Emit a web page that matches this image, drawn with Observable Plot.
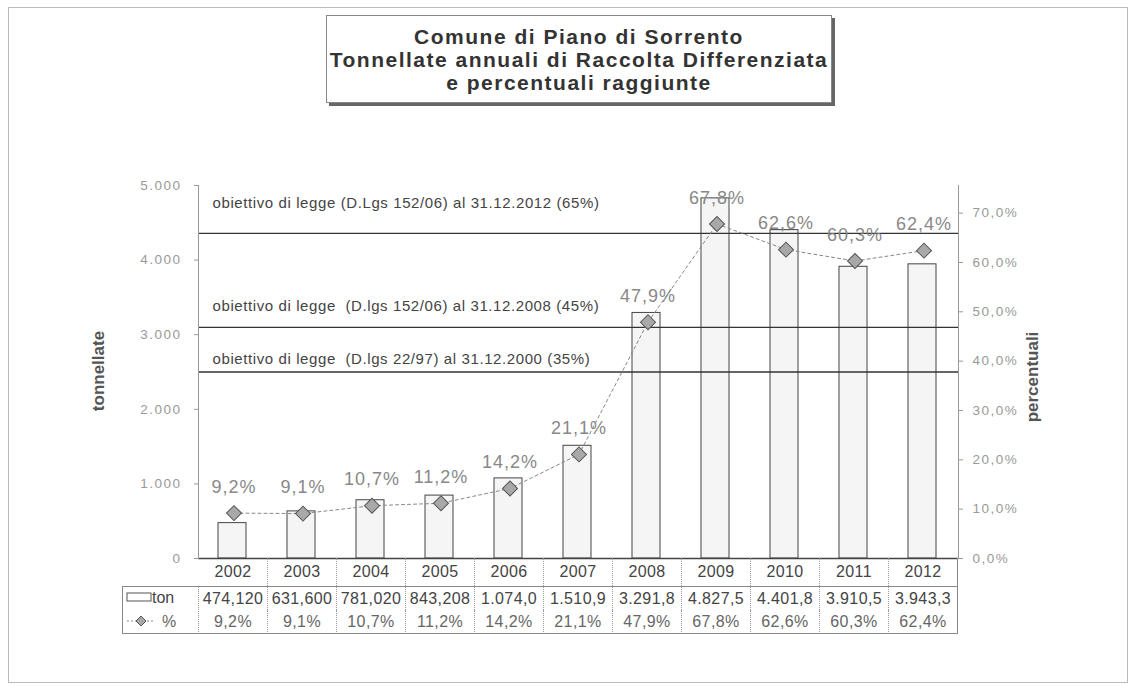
<!DOCTYPE html>
<html><head><meta charset="utf-8">
<script src="https://cdn.jsdelivr.net/npm/d3@7"></script>
<script src="https://cdn.jsdelivr.net/npm/@observablehq/plot@0.6"></script>
<style>
html,body{margin:0;padding:0;background:#fff;}
#wrap{position:relative;width:1132px;height:693px;font-family:"Liberation Sans",Arial,sans-serif;overflow:hidden;background:#fff}
#wrap svg{position:absolute;left:0;top:0}
.abs{position:absolute;box-sizing:border-box}
.cell{position:absolute;box-sizing:border-box;text-align:center;font-size:16px;color:#444;letter-spacing:0.4px}
.tick-lbl text{letter-spacing:1.5px}
.goal-lbl text{letter-spacing:0.6px}
.pct-lbl text{letter-spacing:1px}
</style></head><body><div id="wrap"></div>
<script>
// ---- data ----
const years = ["2002","2003","2004","2005","2006","2007","2008","2009","2010","2011","2012"];
const tons = [474.12, 631.6, 781.02, 843.208, 1074.0, 1510.9, 3291.8, 4827.5, 4401.8, 3910.5, 3943.3];
const tonLabels = ["474,120","631,600","781,020","843,208","1.074,0","1.510,9","3.291,8","4.827,5","4.401,8","3.910,5","3.943,3"];
const pcts = [9.2, 9.1, 10.7, 11.2, 14.2, 21.1, 47.9, 67.8, 62.6, 60.3, 62.4];
const pctLabels = ["9,2%","9,1%","10,7%","11,2%","14,2%","21,1%","47,9%","67,8%","62,6%","60,3%","62,4%"];
const goalLabels = [
  "obiettivo di legge (D.Lgs 152/06) al 31.12.2012 (65%)",
  "obiettivo di legge  (D.lgs 152/06) al 31.12.2008 (45%)",
  "obiettivo di legge  (D.lgs 22/97) al 31.12.2000 (35%)"
];
const goalLevels = [4357, 3097, 2500]; // drawn on the tonnellate axis
const tonTicks = [0, 1000, 2000, 3000, 4000, 5000];
const pctTicks = [0, 10, 20, 30, 40, 50, 60, 70];
const tonMax = 5000, pctMax = 75.6;
const title = ["Comune di Piano di Sorrento", "Tonnellate annuali di Raccolta Differenziata", "e percentuali raggiunte"];

// ---- tables ----
const data = years.map((y, i) => ({year: y, ton: tons[i], pct: pcts[i], pctLabel: pctLabels[i]}));
const goals = goalLabels.map((l, i) => ({label: l, level: goalLevels[i]}));
const k = tonMax / pctMax;
const itNum = d3.formatLocale({decimal: ",", thousands: ".", grouping: [3]});
const fmtTon = itNum.format(",");
const fmtPct = v => itNum.format(".1f")(v / k) + "%";

const goalDy = [-30, -21, -13];

const plot = Plot.plot({
  width: 1132, height: 693,
  marginLeft: 198, marginRight: 174, marginTop: 185, marginBottom: 135,
  x: {domain: years, padding: 0, axis: null},
  y: {domain: [0, tonMax], axis: null},
  style: {fontFamily: '"Liberation Sans", Arial, sans-serif', background: "transparent", color: "#444"},
  marks: [
    Plot.barY(data, {x: "year", y: "ton", fill: "#f5f5f5", stroke: "#444", strokeWidth: 1, insetLeft: 19, insetRight: 22}),
    Plot.ruleY(goals, {y: "level", stroke: "#333", strokeWidth: 1.3}),
    ...goals.map((g, i) => Plot.text([g], {y: "level", text: "label", frameAnchor: "left", textAnchor: "start", dx: 14, dy: goalDy[i], fontSize: 15, fill: "#444", className: "goal-lbl"})),
    Plot.ruleY([0], {stroke: "#444", strokeWidth: 1.5}),
    Plot.line(data, {x: "year", y: d => d.pct * k, stroke: "#888", strokeWidth: 1, strokeDasharray: "3,3"}),
    Plot.dot(data, {x: "year", y: d => d.pct * k, symbol: "square", rotate: 45, r: 6, fill: "#a8a8a8", stroke: "#555", strokeWidth: 1}),
    Plot.text(data, {x: "year", y: d => d.pct * k, text: "pctLabel", dy: -26, fontSize: 18, fill: "#888", className: "pct-lbl"}),
    Plot.axisY(tonTicks, {anchor: "left", tickFormat: fmtTon, tickSize: 4, tickPadding: 13, fontSize: 13.5, color: "#999", className: "tick-lbl"}),
    Plot.axisY(pctTicks.map(p => p * k), {anchor: "right", tickFormat: fmtPct, tickSize: 4, tickPadding: 10, fontSize: 13.5, color: "#999", className: "tick-lbl"}),
    Plot.frame({anchor: "left", stroke: "#999", strokeDasharray: "1,1"}),
    Plot.frame({anchor: "right", stroke: "#999", strokeDasharray: "1,1"})
  ]
});

const wrap = document.getElementById("wrap");

// outer frame
const fr = document.createElement("div");
fr.className = "abs";
Object.assign(fr.style, {left: "8px", top: "7px", width: "1120px", height: "676px", border: "1px solid #bbb"});
wrap.appendChild(fr);

wrap.appendChild(plot);

// title box
const tb = document.createElement("div");
tb.className = "abs";
Object.assign(tb.style, {left: "326px", top: "15px", width: "506px", height: "88px", border: "1px solid #888",
  boxShadow: "3px 3px 0 #666", background: "#fff", textAlign: "center", fontWeight: "bold", fontSize: "21px",
  lineHeight: "23px", color: "#333", paddingTop: "9px", letterSpacing: "1.5px", whiteSpace: "nowrap"});
tb.innerHTML = title.join("<br>");
wrap.appendChild(tb);

// axis titles
function vlabel(txt, cx, cy) {
  const d = document.createElement("div");
  d.className = "abs";
  Object.assign(d.style, {left: (cx - 100) + "px", top: (cy - 12) + "px", width: "200px", height: "24px", lineHeight: "24px",
    textAlign: "center", transform: "rotate(-90deg)", fontSize: "17px", fontWeight: "bold", color: "#555"});
  d.textContent = txt;
  wrap.appendChild(d);
}
vlabel("tonnellate", 99, 371);
vlabel("percentuali", 1033, 377);

// data table (uses the plot's x and y scales)
const xs = plot.scale("x"), ys = plot.scale("y");
const bw = xs.bandwidth;
const top0 = ys.apply(0);
const xLeft = xs.range[0];
const rowH = [28, 24, 24];
function cell(left, top, w, h, txt, extra) {
  const c = document.createElement("div");
  c.className = "cell";
  Object.assign(c.style, {left: left + "px", top: top + "px", width: w + "px", height: h + "px", lineHeight: h + "px"}, extra || {});
  c.textContent = txt;
  wrap.appendChild(c);
  return c;
}
years.forEach((y, i) => {
  const l = xs.apply(y);
  const last = i === years.length - 1;
  const br = last ? "1px solid #888" : "1px dotted #999";
  cell(l, top0, bw, rowH[0], y, {borderRight: br});
  cell(l, top0 + rowH[0], bw, rowH[1], tonLabels[i], {borderTop: "1px solid #888", borderRight: br});
  cell(l, top0 + rowH[0] + rowH[1], bw, rowH[2], pctLabels[i], {borderBottom: "1px solid #888", borderRight: br, color: "#666"});
});
// legend column
const lg = document.createElement("div");
lg.className = "abs";
Object.assign(lg.style, {left: "122px", top: (top0 + rowH[0]) + "px", width: (xLeft - 122 + 1) + "px", height: (rowH[1] + rowH[2]) + "px",
  border: "1px solid #888", borderRight: "1px dotted #999"});
wrap.appendChild(lg);
const lgs = document.createElementNS("http://www.w3.org/2000/svg", "svg");
lgs.setAttribute("width", "80"); lgs.setAttribute("height", "50");
lgs.style.position = "absolute"; lgs.style.left = "122px"; lgs.style.top = (top0 + rowH[0]) + "px";
lgs.innerHTML = `<rect x="5" y="7" width="24" height="8" fill="#fff" stroke="#555"/>
<text x="30" y="17" font-size="16" fill="#444" font-family="Liberation Sans, Arial">ton</text>
<line x1="5" y1="35" x2="33" y2="35" stroke="#888" stroke-dasharray="2,2"/>
<path d="M19,30 L24,35 L19,40 L14,35 Z" fill="#a8a8a8" stroke="#555"/>
<text x="40" y="41" font-size="16" fill="#666" font-family="Liberation Sans, Arial">%</text>`;
wrap.appendChild(lgs);
</script></body></html>
